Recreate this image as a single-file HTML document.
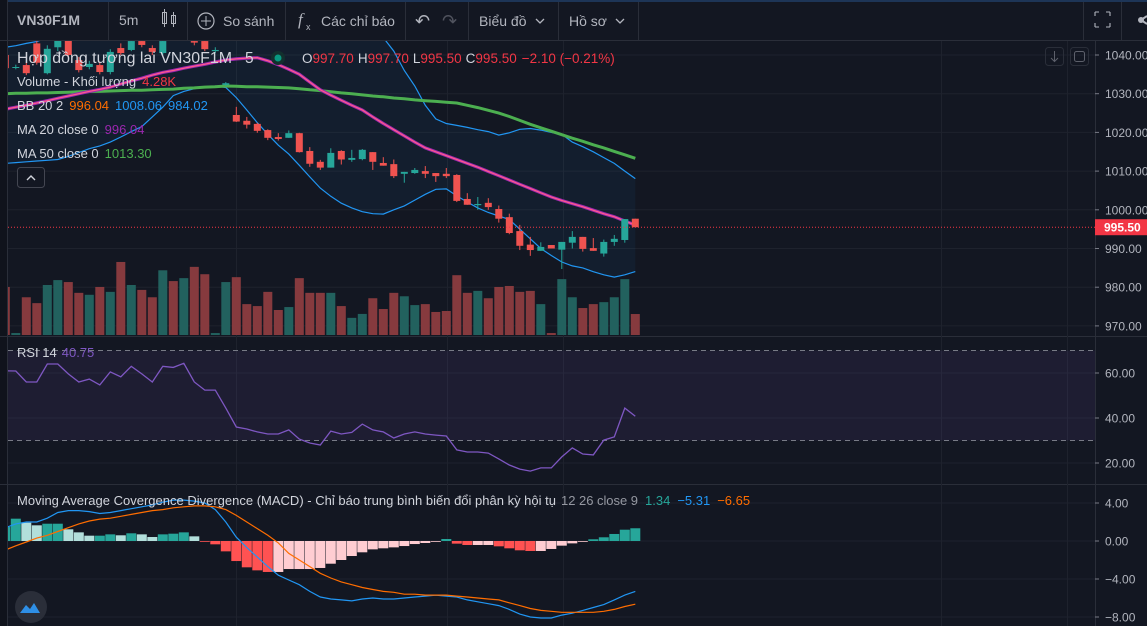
<!DOCTYPE html>
<html><head><meta charset="utf-8"><style>
html,body{margin:0;padding:0;background:#131722;width:1147px;height:626px;overflow:hidden}
svg{display:block;font-family:"Liberation Sans","Noto Sans CJK SC",sans-serif}
</style></head><body>
<svg id="chart" width="1147" height="626" viewBox="0 0 1147 626" xmlns="http://www.w3.org/2000/svg">
<defs>
<clipPath id="cMain"><rect x="8" y="41" width="1087" height="295"/></clipPath>
<clipPath id="cRsi"><rect x="8" y="337" width="1087" height="147"/></clipPath>
<clipPath id="cMacd"><rect x="8" y="485" width="1087" height="141"/></clipPath>
</defs>
<rect x="0" y="0" width="1147" height="626" fill="#131722"/>
<rect x="0" y="0" width="1147" height="2" fill="#1d3557"/>
<rect x="0" y="0" width="8" height="626" fill="#10131c"/>
<line x1="7.5" y1="0" x2="7.5" y2="626" stroke="#2a2e39"/>
<g fill="#b2b5be" font-size="14">
<text x="17" y="25" font-weight="bold" font-size="14" fill="#b2b5be">VN30F1M</text>
<text x="119" y="25">5m</text>
<g stroke="#b2b5be" fill="none">
<rect x="162.5" y="12.5" width="4" height="11"/><line x1="164.5" y1="9" x2="164.5" y2="27"/>
<rect x="171.5" y="15.5" width="4" height="8"/><line x1="173.5" y1="12" x2="173.5" y2="27"/>
</g>
<g>
<circle cx="206" cy="21" r="8" fill="none" stroke="#b2b5be" stroke-width="1.2"/>
<line x1="206" y1="16" x2="206" y2="26" stroke="#b2b5be"/><line x1="201" y1="21" x2="211" y2="21" stroke="#b2b5be"/>
<text x="223" y="26">So sánh</text></g>
<g>
<text x="298" y="25" font-style="italic" font-family="Liberation Serif,serif" font-size="17">f</text><text x="306" y="30" font-size="9">x</text>
<text x="321" y="26">Các chỉ báo</text></g>
<text x="415" y="27" font-size="18">↶</text>
<text x="442" y="27" font-size="18" fill="#50535e">↷</text>
<g><text x="479" y="26">Biểu đồ</text>
<path d="M536 19 l4 4 l4 -4" fill="none" stroke="#b2b5be" stroke-width="1.3"/></g>
<g><text x="569" y="26">Hồ sơ</text>
<path d="M616 19 l4 4 l4 -4" fill="none" stroke="#b2b5be" stroke-width="1.3"/></g>
<g stroke="#b2b5be" fill="none" stroke-width="1.1">
<path d="M1095 12 h4 M1095 12 v4 M1110 12 h-4 M1110 12 v4 M1095 27 h4 M1095 27 v-4 M1110 27 h-4 M1110 27 v-4"/></g>
<g><circle cx="1141" cy="20" r="3" fill="#b2b5be"/><line x1="1141" y1="20" x2="1147" y2="16" stroke="#b2b5be" stroke-width="2"/><line x1="1141" y1="20" x2="1147" y2="24" stroke="#b2b5be" stroke-width="2"/></g>
</g>
<g stroke="#2a2e39">
<line x1="108.5" y1="2" x2="108.5" y2="40"/><line x1="187.5" y1="2" x2="187.5" y2="40"/><line x1="285.5" y1="2" x2="285.5" y2="40"/>
<line x1="405.5" y1="2" x2="405.5" y2="40"/><line x1="468.5" y1="2" x2="468.5" y2="40"/><line x1="558.5" y1="2" x2="558.5" y2="40"/>
<line x1="638.5" y1="2" x2="638.5" y2="40"/><line x1="1083.5" y1="2" x2="1083.5" y2="40"/><line x1="1121.5" y1="2" x2="1121.5" y2="40"/>
<line x1="0" y1="40.5" x2="1147" y2="40.5"/>
<line x1="0" y1="336.5" x2="1147" y2="336.5"/><line x1="0" y1="484.5" x2="1147" y2="484.5"/>
<line x1="1095.5" y1="40" x2="1095.5" y2="626"/>
</g>
<g id="grid"></g>
<g id="mainPane" clip-path="url(#cMain)"></g>
<g id="rsiPane" clip-path="url(#cRsi)"></g>
<g id="macdPane" clip-path="url(#cMacd)"></g>
<g id="axis" font-size="12" fill="#b2b5be"></g>
<g font-size="14.5">
<text x="17" y="63" fill="#d1d4dc" font-size="15.5" textLength="215" lengthAdjust="spacingAndGlyphs">Hợp đồng tương lai VN30F1M</text>
<text x="245" y="63" fill="#d1d4dc" font-size="15.5">5</text>
<circle cx="278" cy="58" r="7" fill="#13302e"/>
<circle cx="278" cy="58" r="3.5" fill="#089981"/>
<text x="302" y="63" font-size="13.5"><tspan fill="#d1d4dc">O</tspan><tspan fill="#f23645">997.70</tspan><tspan fill="#d1d4dc" dx="4">H</tspan><tspan fill="#f23645">997.70</tspan><tspan fill="#d1d4dc" dx="4">L</tspan><tspan fill="#f23645">995.50</tspan><tspan fill="#d1d4dc" dx="4">C</tspan><tspan fill="#f23645">995.50</tspan><tspan fill="#f23645" dx="5">−2.10 (−0.21%)</tspan></text>
<text x="17" y="86" font-size="13"><tspan fill="#d1d4dc">Volume - Khối lượng</tspan><tspan fill="#f23645" dx="6">4.28K</tspan></text>
<text x="17" y="110" font-size="13"><tspan fill="#d1d4dc">BB 20 2</tspan><tspan fill="#ff6d00" dx="6">996.04</tspan><tspan fill="#2196f3" dx="6">1008.06</tspan><tspan fill="#2196f3" dx="6">984.02</tspan></text>
<text x="17" y="134" font-size="13"><tspan fill="#d1d4dc">MA 20 close 0</tspan><tspan fill="#9c27b0" dx="6">996.04</tspan></text>
<text x="17" y="158" font-size="13"><tspan fill="#d1d4dc">MA 50 close 0</tspan><tspan fill="#4caf50" dx="6">1013.30</tspan></text>
<g><rect x="17.5" y="167.5" width="27" height="20" rx="3" fill="#131722" stroke="#434651"/>
<path d="M27 180 l4 -4 l4 4" fill="none" stroke="#d1d4dc" stroke-width="1.4"/></g>
<g><rect x="1045.5" y="47.5" width="18" height="18" rx="3" fill="none" stroke="#2a2e39"/>
<path d="M1054.5 51 v10 M1051 58 l3.5 3.5 l3.5 -3.5" fill="none" stroke="#5d606b"/>
<rect x="1070.5" y="47.5" width="18" height="18" rx="3" fill="none" stroke="#2a2e39"/>
<rect x="1074.5" y="51.5" width="10" height="10" rx="2" fill="none" stroke="#5d606b"/></g>
</g>
<text x="17" y="357" font-size="13"><tspan fill="#d1d4dc">RSI 14</tspan><tspan fill="#7e57c2" dx="5">40.75</tspan></text>
<text x="17" y="505" font-size="13"><tspan fill="#d1d4dc" textLength="539">Moving Average Covergence Divergence (MACD) - Chỉ báo trung bình biến đổi phân kỳ hội tụ</tspan></text>
<text x="561" y="505" font-size="13" fill="#9598a1" textLength="77">12 26 close 9</text>
<text x="645" y="505" font-size="13"><tspan fill="#26a69a">1.34</tspan><tspan fill="#2196f3" dx="7">−5.31</tspan><tspan fill="#ff6d00" dx="7">−6.65</tspan></text>
<g><circle cx="31" cy="607" r="16" fill="#2a2e39"/>
<path d="M20 613 l6 -8 l4 4 l4 -6 l6 10 z" fill="#2e8fe6"/></g>
</svg>
<script>
const opens=[1040,1036.7,1037.4,1043,1035.3,1042,1044.5,1038.7,1036.9,1037.4,1035.6,1041.8,1041.3,1043.6,1041.8,1040.5,1046,1044.5,1043.6,1043.6,1041,1032.3,1024.5,1023,1022.2,1020.6,1018.8,1018.6,1019.8,1015.2,1012.4,1010.9,1015.2,1012.9,1013.1,1014.9,1012.1,1011.8,1009.3,1009.5,1010,1009.5,1009.3,1009,1002.8,1001.2,1001.8,1000.2,998.1,994.5,991,989.4,990.9,989.7,991.5,993,990.1,988.7,991.7,992.2,997.7];
const highs=[1041,1037.5,1038,1045,1042.5,1046,1046,1039.5,1038.5,1038,1041.5,1043,1045,1045,1042.5,1045,1047,1047,1044.5,1044.5,1042,1033,1026.6,1024,1022.5,1020.8,1019.8,1020.5,1019.9,1016.2,1012.9,1015.9,1015.4,1015.5,1015.7,1014.9,1013.6,1013,1009.8,1010.8,1011.3,1009.5,1010.8,1009.2,1004.3,1003.3,1003,1001.1,999,996.1,993,991.6,990.9,991.7,994.5,993,992.7,992.3,993.5,997.6,997.7];
const lows=[1036,1036.3,1034.8,1037.5,1035,1041,1039.5,1035.5,1036.3,1035,1035,1040,1041,1042,1040,1040,1044,1044,1042.5,1041,1040.5,1032,1022.7,1021,1019.9,1018,1017.9,1018.6,1014.8,1011.1,1010.3,1010.9,1011.7,1012.4,1012.8,1010.3,1011.4,1008.2,1007,1009.3,1008.2,1007.2,1008.2,1002,1001.3,1000,1000,996.7,993.7,989.6,988.1,989.4,990,984.7,990,989.2,989.4,987.9,990.7,991.5,995.5];
const closes=[1036.6,1036.9,1035.3,1038,1041.6,1045,1040,1036.1,1037.7,1035.6,1040.8,1040.5,1043.6,1042.6,1040.8,1043.6,1044.5,1046,1043.2,1041.5,1041.3,1032.7,1022.8,1022,1020.4,1018.6,1018.3,1019.8,1014.9,1011.9,1010.9,1014.7,1013,1013.4,1015.5,1012.4,1011.4,1008.7,1009.8,1010.3,1009.3,1008.7,1008.7,1002.3,1001.3,1001.5,1000.7,997.7,994,990.7,989.6,990.4,990,991.7,993,989.9,989.4,991.7,992.5,997.6,995.5];
const volumes=[9.8,0.4,7.7,6.5,10.2,11.2,10.8,8.6,8.2,9.8,8.8,14.9,10.2,9.2,7.7,13.2,11,11.6,13.9,12.4,0.4,10.8,11.8,6.3,5.9,8.8,5.1,5.7,11.6,8.6,8.6,8.6,5.9,3.5,4.3,7.5,5.3,8.6,7.9,6.1,6.3,4.7,4.9,12.2,8.6,9,7.5,9.8,10,8.8,9,6.3,0.4,11.4,7.7,5.5,6.3,6.7,7.7,11.4,4.28];
const ma20=[1026,1026.5,1027,1027.6,1028.2,1028.8,1029.4,1030,1030.6,1031.1,1031.7,1032.5,1033.3,1034,1034.8,1035.5,1036,1036.6,1037.1,1037.6,1038.2,1038.7,1039,1039.2,1039.3,1038.5,1037.5,1036.3,1035,1033,1031,1029.6,1028.3,1027,1025.8,1024,1022.3,1020.7,1019.1,1017.5,1016,1015,1014,1013,1012,1011,1009.9,1008.8,1007.7,1006.6,1005.5,1004.4,1003.3,1002.4,1001.6,1000.8,999.9,999,998.2,997.1,996.04];
const ma50=[1030,1030.1,1030.1,1030.2,1030.2,1030.3,1030.4,1030.5,1030.6,1030.6,1030.7,1030.8,1030.9,1030.9,1031,1031.1,1031.2,1031.4,1031.5,1031.7,1031.8,1032,1031.9,1031.8,1031.8,1031.7,1031.6,1031.5,1031.3,1031,1030.8,1030.5,1030.2,1030,1029.7,1029.4,1029.2,1028.9,1028.7,1028.4,1028.2,1028,1027.8,1027.6,1027,1026.4,1025.7,1025,1024.1,1023.1,1022.1,1021.2,1020.3,1019.4,1018.5,1017.7,1016.8,1016,1015.1,1014.2,1013.3];
const bbUpper=[1042,1042.4,1043,1043.5,1044.5,1045,1046,1047,1048,1048,1048,1048,1048,1048,1048,1048,1048,1048,1048,1048,1048,1048,1048,1048,1048,1048,1048,1048,1048,1048,1048,1048,1048,1048,1047,1046,1044.5,1041,1036,1032,1027,1023.5,1022.3,1021.8,1021.3,1020.7,1020.2,1019.3,1019.9,1020.8,1021,1020.6,1020,1019.5,1017.5,1016.3,1015,1013.5,1012,1010,1008.06];
const bbLower=[1012,1012.2,1012.4,1012.6,1012.8,1013,1013.8,1014.8,1015.8,1016.5,1017.5,1018.8,1020.2,1021.5,1024,1026.5,1029.5,1030.6,1031.3,1031.7,1032,1031.6,1029,1025.8,1022.5,1019.5,1016.7,1014.4,1011.5,1008.5,1005.6,1003.5,1001.7,1000.5,999.5,999,998.9,1000,1001,1002.5,1004,1005.3,1005.4,1003.6,1002,1000.5,999.3,998.4,997.5,995,992.5,990,988.2,986.5,985.5,985,984,983.2,982.6,983.2,984.02];
const rsi=[61,60.9,56,56,64,64,59.6,56,57.3,54.7,60.5,58.3,63,59.6,56,63,62.5,64.3,56,52.4,52.4,44.4,36,35.1,33.8,32.9,32.9,34.7,30.6,28.9,28,34.2,32.9,33.6,37.3,34.7,33.8,31.1,32.9,33.8,32.9,32.4,32,25.8,24.9,24.9,24.4,21.8,19.1,17.3,16.4,17.8,17.8,22.7,26.7,24,23.6,30.2,31.6,44.4,40.75];
const macdHist=[1.47,2.35,1.93,1.65,1.82,1.82,1.23,0.91,0.56,0.56,0.7,0.6,0.81,0.7,0.42,0.7,0.77,0.91,0.49,-0.04,-0.35,-1.09,-2.11,-2.77,-3.09,-3.26,-3.26,-2.95,-2.95,-2.95,-2.84,-2.39,-2,-1.58,-1.19,-0.88,-0.77,-0.67,-0.53,-0.32,-0.21,-0.07,0.21,-0.28,-0.42,-0.42,-0.42,-0.56,-0.77,-0.98,-1.05,-1.05,-0.84,-0.49,-0.25,-0.07,0.18,0.39,0.74,1.19,1.34];
const macdLine=[1.4,1.8,2,2,2.4,3,3.2,3.2,3.1,2.9,3,3.2,3.4,3.6,3.8,4.1,4.3,4.3,4.2,4,3.3,2,0.4,-0.7,-1.7,-2.7,-3.6,-4.1,-4.6,-5.3,-5.9,-6.1,-6.2,-6.3,-6.1,-6,-6.1,-6.1,-6,-5.9,-5.8,-5.7,-5.8,-5.9,-6.2,-6.4,-6.6,-6.8,-7.2,-7.7,-8,-8.1,-8.1,-7.8,-7.6,-7.3,-7,-6.7,-6.2,-5.7,-5.31];
const signalLine=[-0.95,-0.5,-0.1,0.3,0.6,1,1.4,1.8,2.1,2.3,2.4,2.6,2.8,3,3.2,3.3,3.5,3.6,3.7,3.7,3.6,3.3,2.7,2,1.3,0.6,-0.2,-1.3,-2,-2.7,-3.4,-3.9,-4.3,-4.6,-4.9,-5.1,-5.3,-5.4,-5.6,-5.6,-5.7,-5.7,-5.7,-5.8,-5.9,-6,-6.1,-6.2,-6.5,-6.8,-7.1,-7.3,-7.4,-7.5,-7.5,-7.5,-7.5,-7.4,-7.2,-6.9,-6.65];
const priceTicks=[1040,1030,1020,1010,1000,990,980,970];
const rsiTicks=[60,40,20];
const macdTicks=[4,0,-4,-8];
const lastPrice=995.5;

const NS='http://www.w3.org/2000/svg';
function xOf(i){return 5.3+10.5*i;}
function yP(p){return 55+(1040-p)*3.87;}
function yV(v){return 335-v/0.204;}
function yR(r){return 373+(60-r)*2.25;}
function yM(m){return 541-m*9.5;}
function mk(tag,attrs,parent){const e=document.createElementNS(NS,tag);for(const k in attrs)e.setAttribute(k,attrs[k]);parent.appendChild(e);return e;}
function pathOf(arr,fy){return arr.map((v,i)=>(i?'L':'M')+xOf(i).toFixed(1)+' '+fy(v).toFixed(1)).join(' ');}
function fmt(v){return (v<0?'−':'')+Math.abs(v).toFixed(2);}

const grid=document.getElementById('grid');
const main=document.getElementById('mainPane');
const rsiG=document.getElementById('rsiPane');
const macdG=document.getElementById('macdPane');
const axis=document.getElementById('axis');

priceTicks.forEach(t=>{const l=mk('line',{x1:8,x2:1095,y1:yP(t),y2:yP(t),stroke:'#1e222d'},grid);

});
rsiTicks.forEach(t=>{const l=mk('line',{x1:8,x2:1095,y1:yR(t),y2:yR(t),stroke:'#1e222d'},grid);

});
macdTicks.forEach(t=>{const l=mk('line',{x1:8,x2:1095,y1:yM(t),y2:yM(t),stroke:'#1e222d'},grid);

});
[236.5,447.5,563.5,941.5,1067.5].forEach(x=>{const l=mk('line',{x1:x,x2:x,y1:41,y2:626,stroke:'#1e222d'},grid);

});

const fillD=pathOf(bbUpper,yP)+' '+bbLower.map((v,i)=>'L'+xOf(i).toFixed(1)+' '+yP(v).toFixed(1)).reverse().join(' ')+' Z';
const bbFill=mk('path',{d:fillD,fill:'rgba(33,150,243,0.06)'},main);



volumes.forEach((v,i)=>{const up=closes[i]>=opens[i];
const r=mk('rect',{x:xOf(i)-4.5,y:yV(v),width:9,height:335-yV(v),fill:up?'#22615e':'#863a3e'},main);

});

const ub=mk('path',{d:pathOf(bbUpper,yP),fill:'none',stroke:'#2196f3','stroke-width':1.2},main);


const lb=mk('path',{d:pathOf(bbLower,yP),fill:'none',stroke:'#2196f3','stroke-width':1.2},main);


const m50=mk('path',{d:pathOf(ma50,yP),fill:'none',stroke:'#4caf50','stroke-width':3},main);


const m20b=mk('path',{d:pathOf(ma20,yP),fill:'none',stroke:'#9c27b0','stroke-width':3.2},main);


const m20=mk('path',{d:pathOf(ma20,yP),fill:'none',stroke:'#ff5b8a','stroke-width':1.3},main);



opens.forEach((o,i)=>{const c=closes[i];const up=c>=o;const col=up?'#26a69a':'#f05350';const x=xOf(i);
const w=mk('line',{x1:x,x2:x,y1:yP(highs[i]),y2:yP(lows[i]),stroke:col,'stroke-width':1},main);


const top=yP(Math.max(o,c)),bot=yP(Math.min(o,c));
const b=mk('rect',{x:x-3.5,y:top,width:7,height:Math.max(1,bot-top),fill:col},main);

});

const lp=mk('line',{x1:8,x2:1095,y1:yP(lastPrice),y2:yP(lastPrice),stroke:'#f23645','stroke-dasharray':'1 2'},main);



const band=mk('rect',{x:8,y:yR(70),width:1087,height:yR(30)-yR(70),fill:'rgba(126,87,194,0.1)'},rsiG);


[70,30].forEach(t=>{const l=mk('line',{x1:8,x2:1095,y1:yR(t),y2:yR(t),stroke:'#787b86','stroke-dasharray':'5 4'},rsiG);

});
const rl=mk('path',{d:pathOf(rsi,yR),fill:'none',stroke:'#7e57c2','stroke-width':1.3},rsiG);



macdHist.forEach((v,i)=>{const prev=i?macdHist[i-1]:v;let col;
if(v>=0)col=v>=prev?'#26a69a':'#b2dfdb';else col=v<prev?'#ff5252':'#ffcdd2';
const y0=yM(0),y1=yM(v);
const r=mk('rect',{x:xOf(i)-5,y:Math.min(y0,y1),width:10,height:Math.max(0.8,Math.abs(y1-y0)),fill:col},macdG);

});
const ml=mk('path',{d:pathOf(macdLine,yM),fill:'none',stroke:'#2196f3','stroke-width':1.2},macdG);


const sl=mk('path',{d:pathOf(signalLine,yM),fill:'none',stroke:'#ff6d00','stroke-width':1.2},macdG);



function tick(y,label,name){const l=mk('line',{x1:1095,x2:1099,y1:y,y2:y,stroke:'#787b86'},axis);


const t=mk('text',{x:1105,y:y+4.5},axis);t.textContent=label;

}
priceTicks.forEach(t=>tick(yP(t),t.toFixed(2),'price-tick-label'));
rsiTicks.forEach(t=>tick(yR(t),t.toFixed(2),'rsi-tick-label'));
macdTicks.forEach(t=>tick(yM(t),fmt(t),'macd-tick-label'));
const pb=mk('rect',{x:1095,y:yP(lastPrice)-8,width:52,height:16,fill:'#f23645'},axis);


const pt=mk('text',{x:1104,y:yP(lastPrice)+4.5,fill:'#ffffff','font-weight':'bold'},axis);
pt.textContent=lastPrice.toFixed(2);


</script>
</body></html>
